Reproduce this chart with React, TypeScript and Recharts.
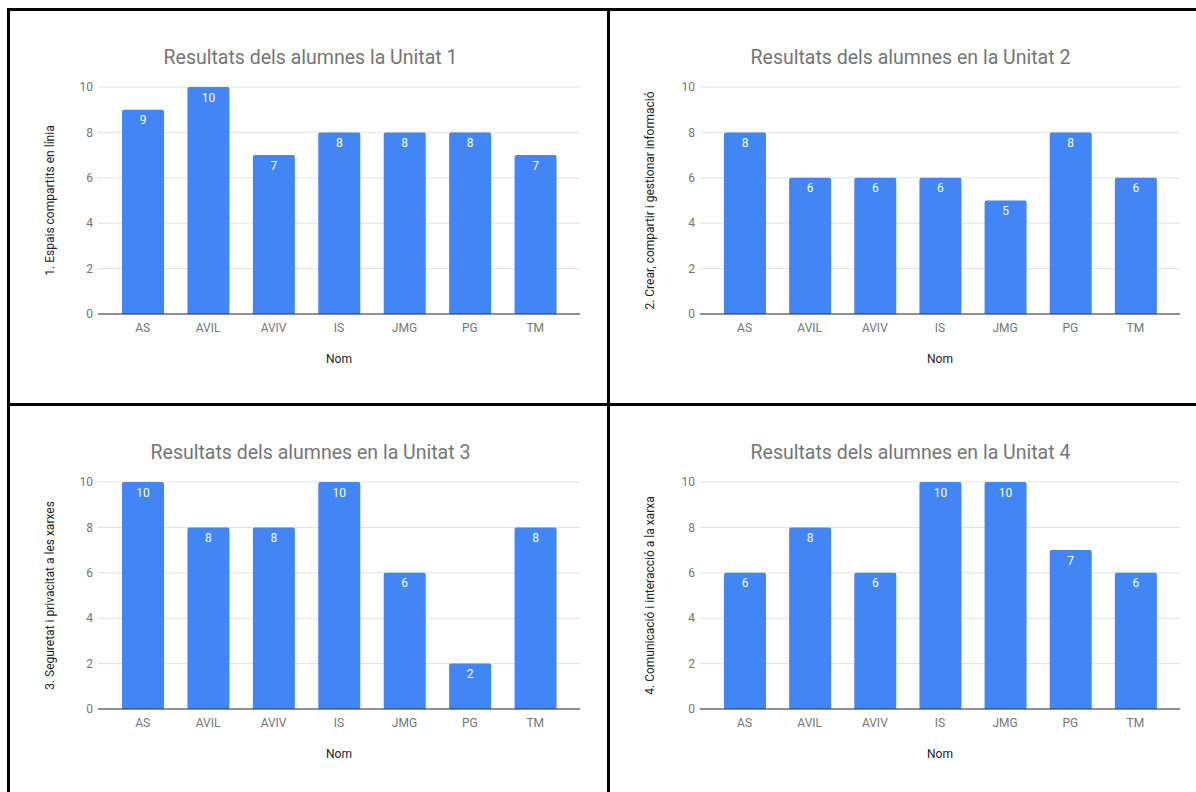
import { BarChart, Bar, XAxis, YAxis, CartesianGrid, LabelList, Label } from "recharts"

const noms = ["AS", "AVIL", "AVIV", "IS", "JMG", "PG", "TM"]
const unitat1 = [9, 10, 7, 8, 8, 8, 7]
const unitat2 = [8, 6, 6, 6, 5, 8, 6]
const unitat3 = [10, 8, 8, 10, 6, 2, 8]
const unitat4 = [6, 8, 6, 10, 10, 7, 6]
const titols = [
  "Resultats dels alumnes la Unitat 1",
  "Resultats dels alumnes en la Unitat 2",
  "Resultats dels alumnes en la Unitat 3",
  "Resultats dels alumnes en la Unitat 4",
]
const competencies = [
  "1. Espais compartits en línia",
  "2. Crear, compartir i gestionar informació",
  "3. Seguretat i privacitat a les xarxes",
  "4. Comunicació i interacció a la xarxa",
]
const yTicks = [0, 2, 4, 6, 8, 10]

const FONT = "Roboto, Arial, sans-serif"
const W = 597
const H = 392

function YTitle(props: any) {
  const { viewBox, value } = props
  const cx = viewBox.x + 40
  const cy = viewBox.y + viewBox.height / 2
  return (
    <text
      x={cx}
      y={cy}
      transform={`rotate(-90, ${cx}, ${cy})`}
      textAnchor="middle"
      dominantBaseline="central"
      fontSize={12}
      fill="#222"
      fontFamily={FONT}
    >
      {value}
    </text>
  )
}

function UnitChart({ title, yLabel, values, yWidth }: { title: string; yLabel: string; values: number[]; yWidth: number }) {
  const data = noms.map((nom, i) => ({ nom, nota: values[i] }))
  return (
    <div style={{ position: "relative", width: W, height: H }}>
      <div
        style={{
          position: "absolute",
          top: 35,
          left: 2,
          width: W,
          textAlign: "center",
          fontFamily: FONT,
          fontSize: 19.5,
          color: "#757575",
        }}
      >
        {title}
      </div>
      <BarChart width={W} height={H} data={data} margin={{ top: 76, right: 27, bottom: 0, left: 0 }}>
        <CartesianGrid vertical={false} stroke="#e0e0e0" />
        <XAxis
          dataKey="nom"
          height={89}
          padding={{ left: 12, right: 12 }}
          tickLine={false}
          tickSize={0}
          tickMargin={9}
          axisLine={{ stroke: "#333" }}
          tick={{ fontSize: 12, fill: "#757575", fontFamily: FONT }}
        >
          <Label value="Nom" position="insideTop" offset={40} fontSize={12} fill="#222" fontFamily={FONT} />
        </XAxis>
        <YAxis
          width={yWidth}
          domain={[0, 10]}
          ticks={yTicks}
          axisLine={false}
          tickLine={false}
          tickSize={0}
          tickMargin={5}
          tick={{ fontSize: 12, fill: "#757575", fontFamily: FONT }}
        >
          <Label value={yLabel} content={YTitle} />
        </YAxis>
        <Bar dataKey="nota" fill="#4285F4" barSize={42} radius={[2, 2, 0, 0]} isAnimationActive={false}>
          <LabelList dataKey="nota" position="insideTop" offset={6} fill="#fff" fontSize={12} fontFamily={FONT} />
        </Bar>
      </BarChart>
    </div>
  )
}

const line = (left: number, top: number, width: number, height: number) => (
  <div style={{ position: "absolute", left, top, width, height, background: "#000" }} />
)

export default function App() {
  return (
    <div style={{ position: "absolute", left: 0, top: 0, width: 1196, height: 792, overflow: "hidden", background: "#fff" }}>
      <div style={{ position: "absolute", left: 10, top: 11 }}>
        <UnitChart title={titols[0]} yLabel={competencies[0]} values={unitat1} yWidth={88} />
      </div>
      <div style={{ position: "absolute", left: 610, top: 11 }}>
        <UnitChart title={titols[1]} yLabel={competencies[1]} values={unitat2} yWidth={90} />
      </div>
      <div style={{ position: "absolute", left: 10, top: 406 }}>
        <UnitChart title={titols[2]} yLabel={competencies[2]} values={unitat3} yWidth={88} />
      </div>
      <div style={{ position: "absolute", left: 610, top: 406 }}>
        <UnitChart title={titols[3]} yLabel={competencies[3]} values={unitat4} yWidth={90} />
      </div>
      {line(7, 8, 1200, 3)}
      {line(7, 8, 3, 800)}
      {line(607, 8, 3, 800)}
      {line(7, 403, 1200, 3)}
    </div>
  )
}
